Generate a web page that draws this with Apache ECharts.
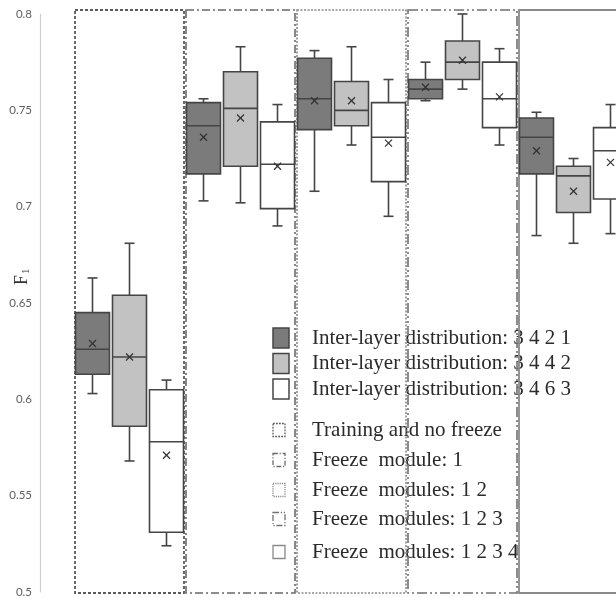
<!DOCTYPE html>
<html><head><meta charset="utf-8">
<script src="https://cdn.jsdelivr.net/npm/echarts@6/dist/echarts.min.js"></script>
<style>html,body{margin:0;padding:0;background:#fff}#c{width:616px;height:598px}</style>
</head><body><div id="c"></div>
<script>
// Groups (training regimes) along x
const groups = ['Training and no freeze', 'Freeze  module: 1', 'Freeze  modules: 1 2', 'Freeze  modules: 1 2 3', 'Freeze  modules: 1 2 3 4'];
const seriesNames = ['Inter-layer distribution: 3 4 2 1', 'Inter-layer distribution: 3 4 4 2', 'Inter-layer distribution: 3 4 6 3'];
const yTicks = [0.5, 0.55, 0.6, 0.65, 0.7, 0.75, 0.8];
// each row: [whiskerLow, q1, median, q3, whiskerHigh, mean]
const dist3421 = [
  [0.603, 0.613, 0.626, 0.645, 0.663, 0.629],
  [0.703, 0.717, 0.742, 0.754, 0.756, 0.736],
  [0.708, 0.740, 0.756, 0.777, 0.781, 0.755],
  [0.755, 0.756, 0.761, 0.766, 0.775, 0.762],
  [0.685, 0.717, 0.736, 0.746, 0.749, 0.729]
];
const dist3442 = [
  [0.568, 0.586, 0.622, 0.654, 0.681, 0.622],
  [0.702, 0.721, 0.751, 0.770, 0.783, 0.746],
  [0.732, 0.742, 0.750, 0.765, 0.783, 0.755],
  [0.761, 0.766, 0.775, 0.786, 0.800, 0.776],
  [0.681, 0.697, 0.716, 0.721, 0.725, 0.708]
];
const dist3463 = [
  [0.524, 0.531, 0.578, 0.605, 0.610, 0.571],
  [0.690, 0.699, 0.722, 0.744, 0.753, 0.721],
  [0.695, 0.713, 0.736, 0.754, 0.766, 0.733],
  [0.732, 0.741, 0.756, 0.775, 0.782, 0.757],
  [0.686, 0.704, 0.729, 0.741, 0.753, 0.723]
];

const fills = ['#7b7b7b', '#c2c2c2', '#ffffff'];
const frameDash = [[3, 2], [8, 3, 2, 3], [2, 1.5], [10, 3, 2, 3, 2, 3], null];
const frameColor = ['#5a5a5a', '#6a6a6a', '#8a8a8a', '#707070', '#8a8a8a'];
const frameWidth = [1.8, 1.6, 1.6, 1.6, 1.8];

function makeBox(slot, fill) {
  return function (params, api) {
    const g = api.value(0);
    const band = api.size([1, 0])[0];
    const step = band / 3;
    const base = api.coord([g, 0.5]);
    const cx = base[0] - band / 2 + step * (slot + 0.5);
    const half = (step - 3) / 2;
    const y = k => api.coord([g, api.value(k)])[1];
    const lo = y(1), q1 = y(2), md = y(3), q3 = y(4), hi = y(5), mn = y(6);
    const cap = 5, m = 3.5;
    const ls = { stroke: '#454545', lineWidth: 1.6 };
    return {
      type: 'group', children: [
        { type: 'line', shape: { x1: cx, y1: hi, x2: cx, y2: q3 }, style: ls },
        { type: 'line', shape: { x1: cx, y1: q1, x2: cx, y2: lo }, style: ls },
        { type: 'line', shape: { x1: cx - cap, y1: hi, x2: cx + cap, y2: hi }, style: ls },
        { type: 'line', shape: { x1: cx - cap, y1: lo, x2: cx + cap, y2: lo }, style: ls },
        { type: 'rect', shape: { x: cx - half, y: q3, width: 2 * half, height: q1 - q3 }, style: { fill: fill, stroke: '#454545', lineWidth: 1.6 } },
        { type: 'line', shape: { x1: cx - half, y1: md, x2: cx + half, y2: md }, style: ls },
        { type: 'line', shape: { x1: cx - m, y1: mn - m, x2: cx + m, y2: mn + m }, style: { stroke: '#333', lineWidth: 1.3 } },
        { type: 'line', shape: { x1: cx - m, y1: mn + m, x2: cx + m, y2: mn - m }, style: { stroke: '#333', lineWidth: 1.3 } }
      ]
    };
  };
}

function frameRender(params, api) {
  const g = api.value(0);
  const band = api.size([1, 0])[0];
  const c = api.coord([g, 0.8]);
  const b = api.coord([g, 0.5]);
  const x0 = c[0] - band / 2 + 1, x1 = c[0] + band / 2 - 1;
  return {
    type: 'rect',
    shape: { x: x0, y: c[1] - 4, width: x1 - x0, height: b[1] + 1 - (c[1] - 4) },
    style: { fill: 'none', stroke: frameColor[g], lineWidth: frameWidth[g], lineDash: frameDash[g] || 'solid' }
  };
}

const chart = echarts.init(document.getElementById('c'), null, { renderer: 'canvas' });

const legendX = 273, textX = 312;
const serif = '"Liberation Serif", "DejaVu Serif", serif';
const legendItems = [];
const colorRowsY = [338, 363.5, 389];
seriesNames.forEach((n, i) => {
  legendItems.push({ type: 'rect', shape: { x: legendX, y: colorRowsY[i] - 10, width: 16, height: 20 }, style: { fill: fills[i], stroke: '#454545', lineWidth: 1.5 } });
  legendItems.push({ type: 'text', x: textX, y: colorRowsY[i], style: { text: n, font: '21px ' + serif, fill: '#2a2a2a', verticalAlign: 'middle' } });
});
const frameRowsY = [430, 460, 490, 519, 552];
groups.forEach((n, i) => {
  legendItems.push({ type: 'rect', shape: { x: legendX, y: frameRowsY[i] - 6.5, width: 12, height: 13 }, style: { fill: 'none', stroke: frameColor[i], lineWidth: 1.3, lineDash: frameDash[i] ? frameDash[i].map(v => Math.max(1, v * 0.6)) : 'solid' } });
  legendItems.push({ type: 'text', x: textX, y: frameRowsY[i], style: { text: n, font: '21px ' + serif, fill: '#2a2a2a', verticalAlign: 'middle' } });
});

const option = {
  animation: false,
  backgroundColor: '#fff',
  grid: { left: 74, top: 14, width: 555, height: 578, containLabel: false, outerBoundsMode: 'none' },
  xAxis: {
    type: 'category', data: groups, show: false, boundaryGap: true
  },
  yAxis: {
    type: 'value', min: 0.5, max: 0.8, interval: 0.05, offset: 34,
    axisLine: { show: true, lineStyle: { color: '#cfcfcf', width: 1.2 } },
    axisTick: { show: false },
    splitLine: { show: false },
    axisLabel: {
      margin: 8, color: '#5e5e5e', fontSize: 11.5, fontFamily: 'Lato, "Open Sans", sans-serif',
      formatter: v => { const t = yTicks.find(x => Math.abs(x - v) < 1e-6); return t === undefined ? '' : String(t); }
    }
  },
  series: [
    {
      type: 'custom', name: 'frames', z: 1, renderItem: frameRender,
      data: groups.map((_, i) => [i, 0.5]), encode: { x: 0, y: 1 }, silent: true
    },
    {
      type: 'custom', name: seriesNames[0], z: 3, renderItem: makeBox(0, fills[0]),
      data: dist3421.map((d, i) => [i].concat(d)), encode: { x: 0, y: [1, 2, 3, 4, 5, 6] }
    },
    {
      type: 'custom', name: seriesNames[1], z: 3, renderItem: makeBox(1, fills[1]),
      data: dist3442.map((d, i) => [i].concat(d)), encode: { x: 0, y: [1, 2, 3, 4, 5, 6] }
    },
    {
      type: 'custom', name: seriesNames[2], z: 3, renderItem: makeBox(2, fills[2]),
      data: dist3463.map((d, i) => [i].concat(d)), encode: { x: 0, y: [1, 2, 3, 4, 5, 6] }
    }
  ],
  graphic: [
    {
      type: 'group', x: 22, y: 278, rotation: Math.PI / 2, z: 10,
      children: [
        { type: 'text', x: -7, y: 0, style: { text: 'F', font: '18px ' + serif, fill: '#333', verticalAlign: 'middle', align: 'left' } },
        { type: 'text', x: 4, y: 4, style: { text: '1', font: '11px ' + serif, fill: '#333', verticalAlign: 'middle', align: 'left' } }
      ]
    },
    { type: 'group', z: 10, children: legendItems }
  ]
};
chart.setOption(option);
</script>
</body></html>
